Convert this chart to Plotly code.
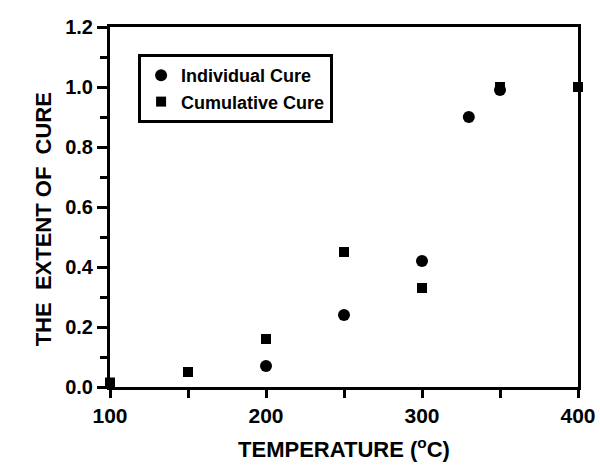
import plotly.graph_objects as go

ind_x = [200, 250, 300, 330, 350]
ind_y = [0.07, 0.24, 0.42, 0.90, 0.99]
cum_x = [100, 150, 200, 250, 300, 350, 400]
cum_y = [0.015, 0.05, 0.16, 0.45, 0.33, 1.0, 1.0]
x_ticks = [100, 200, 300, 400]
y_ticks = [0.0, 0.2, 0.4, 0.6, 0.8, 1.0, 1.2]

FONT = "Liberation Sans, Arial, sans-serif"

fig = go.Figure()
fig.add_trace(go.Scatter(x=ind_x, y=ind_y, mode="markers", name="Individual Cure",
                         marker=dict(symbol="circle", size=12, color="black"), cliponaxis=False))
fig.add_trace(go.Scatter(x=cum_x, y=cum_y, mode="markers", name="Cumulative Cure",
                         marker=dict(symbol="square", size=10, color="black"), cliponaxis=False))

axis_common = dict(showgrid=False, zeroline=False, showline=True, linecolor="black", linewidth=3,
                   mirror=True, ticks="outside", tickcolor="black", tickwidth=2.5, automargin=False)

fig.update_xaxes(range=[100, 400], tickvals=x_ticks, ticktext=[str(v) for v in x_ticks], ticklen=8,
                 tickfont=dict(family=FONT, size=21, color="black", weight="bold"),
                 title=dict(text="TEMPERATURE (<sup>o</sup>C)", font=dict(family=FONT, size=22, color="black", weight="bold"), standoff=16),
                 minor=dict(dtick=50, tick0=100, ticks="outside", ticklen=8, tickwidth=2.5, tickcolor="black"),
                 **axis_common)
fig.update_yaxes(range=[0, 1.2], tickvals=y_ticks, ticktext=[f"{v:.1f}" for v in y_ticks], ticklen=10,
                 tickfont=dict(family=FONT, size=20, color="black", weight="bold"),
                 title=dict(text="THE&nbsp;&nbsp;EXTENT OF&nbsp;&nbsp;CURE&nbsp;&nbsp;&nbsp;&nbsp;", font=dict(family=FONT, size=22, color="black", weight="bold"), standoff=8),
                 minor=dict(dtick=0.1, tick0=0, ticks="outside", ticklen=7, tickwidth=2.5, tickcolor="black"),
                 **axis_common)

fig.update_layout(
    width=600, height=470,
    margin=dict(l=110, r=22, t=27, b=83),
    plot_bgcolor="white", paper_bgcolor="white",
    showlegend=True,
    legend=dict(x=0.06, y=0.925, xanchor="left", yanchor="top",
                bordercolor="black", borderwidth=3, bgcolor="white",
                font=dict(family=FONT, size=18, color="black", weight="bold"),
                itemwidth=30, tracegroupgap=0),
)

fig.write_html("out.html")
